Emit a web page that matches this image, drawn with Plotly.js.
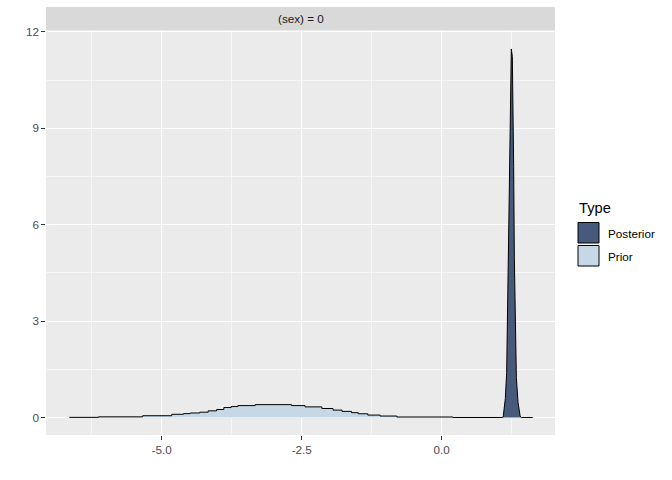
<!DOCTYPE html>
<html>
<head>
<meta charset="utf-8">
<script src="https://cdn.plot.ly/plotly-3.0.1.min.js"></script>
<style>html,body{margin:0;padding:0;background:#fff;}#chart{width:672px;height:480px;}</style>
</head>
<body>
<div id="chart"></div>
<script>
// ---- data ----
var priorX = [-6.65, -6.13, -5.34, -4.82, -4.61, -4.49, -4.32, -4.17, -4.02, -3.89, -3.76, -3.64, -3.33, -2.68, -2.44, -2.14, -1.94, -1.78, -1.61, -1.49, -1.32, -1.10, -0.80, 0.20];
var priorY = [0.004, 0.02, 0.055, 0.10, 0.12, 0.14, 0.165, 0.207, 0.248, 0.31, 0.34, 0.37, 0.40, 0.37, 0.33, 0.28, 0.23, 0.19, 0.15, 0.115, 0.075, 0.045, 0.015, 0.0];
var postX = [0.20, 1.09, 1.10, 1.136, 1.160, 1.172, 1.196, 1.213, 1.226, 1.243, 1.261, 1.273, 1.285, 1.297, 1.315, 1.333, 1.363, 1.40, 1.42, 1.625];
var postY = [0.0, 0.0, 0.05, 0.59, 1.40, 2.97, 5.59, 8.54, 10.68, 11.47, 11.23, 10.04, 7.81, 4.97, 2.64, 1.24, 0.47, 0.05, 0.0, 0.0];
var typeLabels = ['Posterior', 'Prior'];
var typeColors = ['#475A7B', '#C6D8E6'];
var stripLabel = '(sex) = 0';
var legendTitle = 'Type';
var xTicks = [-5, -2.5, 0];
var xTickText = ['-5.0', '-2.5', '0.0'];
var yTicks = [0, 3, 6, 9, 12];
var yTickText = ['0', '3', '6', '9', '12'];

// ---- layout geometry (pixels) ----
var L = 46, R = 555, T = 30, B = 435;
var W = R - L, H = B - T;
function px(x) { return (x - L) / W; }
function py(y) { return (B - y) / H; }

var font = 'Liberation Sans, Arial, sans-serif';

var traces = [
  {
    x: postX, y: postY, type: 'scatter', mode: 'lines', name: typeLabels[0],
    fill: 'tozeroy', fillcolor: typeColors[0],
    line: {color: '#000000', width: 1, shape: 'linear'},
    showlegend: false, hoverinfo: 'x+y'
  },
  {
    x: priorX, y: priorY, type: 'scatter', mode: 'lines', name: typeLabels[1],
    fill: 'tozeroy', fillcolor: typeColors[1],
    line: {color: '#000000', width: 1, shape: 'hv'},
    showlegend: false, hoverinfo: 'x+y'
  }
];

var shapes = [
  // facet strip
  {type: 'rect', xref: 'paper', yref: 'paper', x0: 0, x1: 1, y0: py(30), y1: py(7),
   fillcolor: '#D9D9D9', line: {width: 0}, layer: 'below'}
];
var annotations = [
  {text: stripLabel, xref: 'paper', yref: 'paper', x: 0.5, y: py(18.5), showarrow: false,
   xanchor: 'center', yanchor: 'middle', font: {family: font, size: 11.7, color: '#1A1A1A'}},
  {text: legendTitle, xref: 'paper', yref: 'paper', x: px(577), y: py(208), showarrow: false,
   xanchor: 'left', yanchor: 'middle', font: {family: font, size: 14.7, color: '#000000'}}
];
var keyTops = [222.5, 245.5];
for (var i = 0; i < typeLabels.length; i++) {
  shapes.push({type: 'rect', xref: 'paper', yref: 'paper',
    x0: px(578), x1: px(599), y0: py(keyTops[i] + 20.5), y1: py(keyTops[i]),
    fillcolor: typeColors[i], line: {color: '#000000', width: 1}});
  annotations.push({text: typeLabels[i], xref: 'paper', yref: 'paper', x: px(606), y: py(keyTops[i] + 10.5),
    showarrow: false, xanchor: 'left', yanchor: 'middle', font: {family: font, size: 11.7, color: '#000000'}});
}

var layout = {
  width: 672, height: 480,
  margin: {l: L, r: 672 - R, t: T, b: 480 - B, pad: 0},
  paper_bgcolor: '#FFFFFF', plot_bgcolor: '#EBEBEB',
  showlegend: false,
  font: {family: font},
  xaxis: {
    range: [-7.066, 2.023], tickvals: xTicks, ticktext: xTickText,
    showgrid: true, gridcolor: '#FFFFFF', gridwidth: 1.1, zeroline: false,
    ticks: 'outside', ticklen: 3.7, tickwidth: 1.1, tickcolor: '#333333',
    tickfont: {family: font, size: 11.7, color: '#4D4D4D'},
    minor: {tickvals: [-6.25, -3.75, -1.25, 1.25], showgrid: true, gridcolor: '#FFFFFF', gridwidth: 0.55, ticks: ''},
    showline: false, fixedrange: true
  },
  yaxis: {
    range: [-0.545, 12.06], tickvals: yTicks, ticktext: yTickText,
    showgrid: true, gridcolor: '#FFFFFF', gridwidth: 1.1, zeroline: false,
    ticks: 'outside', ticklen: 3.7, tickwidth: 1.1, tickcolor: '#333333',
    tickfont: {family: font, size: 11.7, color: '#4D4D4D'},
    minor: {tickvals: [1.5, 4.5, 7.5, 10.5], showgrid: true, gridcolor: '#FFFFFF', gridwidth: 0.55, ticks: ''},
    showline: false, fixedrange: true
  },
  shapes: shapes,
  annotations: annotations
};

Plotly.newPlot('chart', traces, layout, {displayModeBar: false, staticPlot: true});
</script>
</body>
</html>
